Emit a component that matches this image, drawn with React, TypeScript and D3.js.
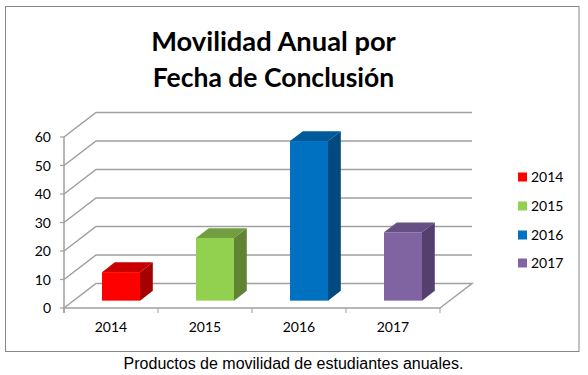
import React from 'react';
import * as d3 from 'd3';

const categories = ['2014', '2015', '2016', '2017'];
const values = [10, 22, 56, 24];
const faceColors = ['#ff0000', '#92d050', '#0070c0', '#8064a2'];
const topColors = ['#c80000', '#729e40', '#005a9a', '#664f83'];
const sideColors = ['#a60000', '#608433', '#004a80', '#553f6e'];
const yTicks = [0, 10, 20, 30, 40, 50, 60];
const titleLines = ['Movilidad Anual por', 'Fecha de Conclusión'];
const caption = 'Productos de movilidad de estudiantes anuales.';

const x = d3.scaleBand<string>().domain(categories).range([64, 440]);
const y = d3.scaleLinear().domain([0, 60]).range([308, 137]);
const dx = 32;
const dy = -24.5;
const grid = '#9f9f9f';
const path = d3.line();

export default function App() {
  return (
    <svg width={588} height={375} style={{ position: 'absolute', left: 0, top: 0, background: '#fff' }}>
      <rect x={5.5} y={6.5} width={573.5} height={345} fill="#fff" stroke="#868686" strokeWidth={1} />
      {titleLines.map((t, i) => (
        <text key={t} x={273.5} y={51 + i * 36} textAnchor="middle" fontFamily="Lato" fontWeight={700} fontSize={i === 0 ? 27.3 : 26.5} fill="#000">{t}</text>
      ))}
      {yTicks.map((t) => (
        <g key={t}>
          <path d={path([[x.range()[0], y(t)], [x.range()[0] + dx, y(t) + dy], ...(t === 0 ? [[x.range()[1] + dx, y(t) + dy] as [number, number], [x.range()[1], y(t)] as [number, number]] : [[x.range()[1] + dx, y(t) + dy] as [number, number]])]) || ''} fill="none" stroke={grid} strokeWidth={1.5} />
          <line x1={x.range()[0] - 4} x2={x.range()[0]} y1={y(t)} y2={y(t)} stroke={grid} strokeWidth={1.2} />
          <text x={51} y={y(t) + 5} textAnchor="end" fontFamily="Lato" fontSize={14} fill="#000">{t}</text>
        </g>
      ))}
      <line x1={64} x2={64} y1={y(60)} y2={y(0) + 5} stroke={grid} strokeWidth={1.5} />
      <line x1={64} x2={440} y1={y(0)} y2={y(0)} stroke={grid} strokeWidth={1.5} />
      {[...categories.map((c) => x(c) as number), 440].map((p) => (
        <line key={p} x1={p} x2={p} y1={y(0)} y2={y(0) + 5} stroke={grid} strokeWidth={1} />
      ))}
      {categories.map((c, i) => {
        const bw = 38;
        const x0 = (x(c) as number) + x.bandwidth() / 2 - bw / 2 + 0.3 * dx + 0.4;
        const x1 = x0 + bw;
        const base = y(0) + 0.3 * dy;
        const top = y(values[i]) + 0.3 * dy;
        const ox = 0.4 * dx;
        const oy = 0.4 * dy;
        return (
          <g key={c}>
            <path d={`${path([[x0, top], [x1, top], [x1 + ox, top + oy], [x0 + ox, top + oy]])}Z`} fill={topColors[i]} />
            <path d={`${path([[x1, top], [x1 + ox, top + oy], [x1 + ox, base + oy], [x1, base]])}Z`} fill={sideColors[i]} />
            <rect x={x0} y={top} width={bw} height={base - top} fill={faceColors[i]} />
            <text x={(x(c) as number) + x.bandwidth() / 2} y={332} textAnchor="middle" fontFamily="Lato" fontSize={14} fill="#000">{c}</text>
          </g>
        );
      })}
      {categories.map((c, i) => {
        const ly = [177, 206, 235, 263][i];
        return (
          <g key={c}>
            <rect x={518} y={ly - 4.5} width={9} height={9} fill={faceColors[i]} />
            <text x={531} y={ly + 5} fontFamily="Lato" fontSize={14} fill="#000">{c}</text>
          </g>
        );
      })}
      <text x={293.5} y={369} textAnchor="middle" fontFamily="Liberation Sans" fontSize={16} fill="#000">{caption}</text>
    </svg>
  );
}
